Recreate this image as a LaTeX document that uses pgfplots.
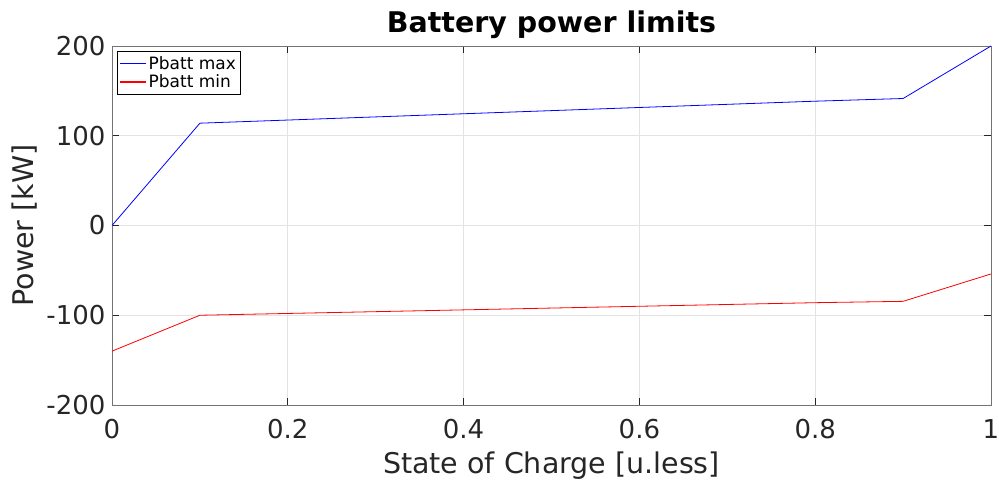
\documentclass[border=0pt]{standalone}
\usepackage{fontspec}
\setmainfont{DejaVu Sans}
\usepackage{pgfplots}
\pgfplotsset{compat=1.18}
\usetikzlibrary{calc}
\definecolor{axgray}{gray}{0.15}
\definecolor{boxgray}{gray}{0.45}
\begin{document}
\begin{tikzpicture}
\begin{axis}[
  name=ax,
  scale only axis,
  width=879pt, height=359pt,
  xmin=0, xmax=1, ymin=-200, ymax=200,
  xtick={0,0.2,0.4,0.6,0.8,1},
  xticklabels={0,0.2,0.4,0.6,0.8,1},
  ytick={-200,-100,0,100,200},
  yticklabels={-200,-100,0,100,200},
  /pgf/number format/assume math mode=true,
  tick align=inside,
  major tick length=7pt,
  tick style={axgray, line width=0.8pt},
  axis line style={boxgray, line width=0.9pt},
  grid=major,
  major grid style={gray!22, line width=0.8pt},
  ticklabel style={font=\fontsize{26}{30}\selectfont, text=axgray},
  xticklabel style={yshift=-11pt},
  yticklabel style={xshift=-3pt},
  title={\textbf{Battery power limits}},
  title style={font=\fontsize{28.5}{32}\selectfont, yshift=-2pt},
  xlabel={State of Charge [u.less]},
  ylabel={Power [kW]},
  label style={font=\fontsize{28.5}{32}\selectfont, text=axgray},
  xlabel style={yshift=-6pt},
  ylabel style={yshift=2pt},
  legend style={font=\fontsize{17}{19}\selectfont, line width=0.6pt,
    at={(0.006,0.986)}, anchor=north west, inner xsep=2pt, inner ysep=3pt},
  legend cell align=left,
  legend image code/.code={\draw[#1, line width=1.1pt] (0pt,0pt) -- (26pt,0pt);},
]
\addplot[color=blue, line width=0.8pt] coordinates {
  (0,0) (0.1,114) (0.2,117.5) (0.3,121) (0.4,124.5) (0.5,128) (0.6,131.5) (0.7,135) (0.8,138.5) (0.9,141.5) (1,200)
};
\addlegendentry{Pbatt max}
\addplot[color=red, line width=0.8pt] coordinates {
  (0,-140) (0.1,-100) (0.2,-98) (0.3,-96) (0.4,-94) (0.5,-92) (0.6,-90) (0.7,-88) (0.8,-86) (0.9,-84.5) (1,-54)
};
\addlegendentry{Pbatt min}
\end{axis}
\pgfresetboundingbox
\path ($(ax.south west)+(-112pt,-79pt)$) rectangle ($(ax.north east)+(8pt,46pt)$);
\end{tikzpicture}
\end{document}
